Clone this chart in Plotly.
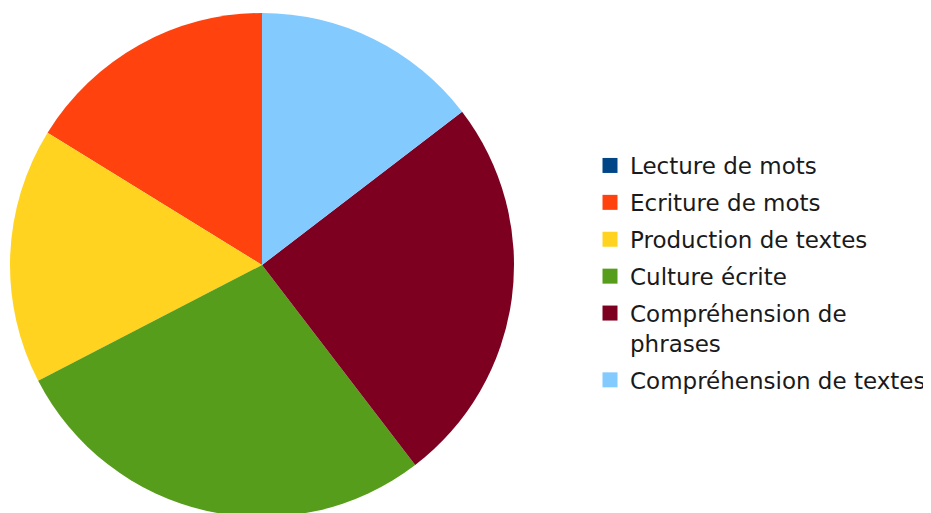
import plotly.graph_objects as go

categories = ["Lecture de mots", "Ecriture de mots", "Production de textes",
              "Culture écrite", "Compréhension de<br>phrases", "Compréhension de textes"]
values = [0, 16.2, 16.4, 27.8, 25.0, 14.6]
colors = ["#004586", "#ff420e", "#ffd320", "#579d1c", "#7e0021", "#83caff"]

W, H = 931, 513
cx, cy, r = 254, 257, 252  # in figure pixels (page has an 8px body margin)

fig = go.Figure()
fig.add_trace(go.Pie(
    labels=categories,
    values=values,
    sort=False,
    direction="counterclockwise",
    rotation=0,
    marker=dict(colors=colors, line=dict(width=0)),
    textinfo="none",
    hoverinfo="label+value",
    showlegend=False,
    domain=dict(x=[(cx - r) / W, (cx + r) / W], y=[(H - cy - r) / H, (H - cy + r) / H]),
))

# legend entries (one group per category so the entries can be spaced)
for i, (lab, col) in enumerate(zip(categories, colors)):
    fig.add_trace(go.Scatter(
        x=[None], y=[None], mode="markers", name=lab,
        marker=dict(symbol="square", size=15, color=col, line=dict(width=0)),
        legendgroup=f"g{i}", showlegend=True, hoverinfo="skip",
    ))

fig.update_layout(
    width=W, height=H,
    margin=dict(l=0, r=0, t=0, b=0),
    paper_bgcolor="white",
    plot_bgcolor="white",
    font=dict(family="DejaVu Sans", size=23, color="#1a1a1a"),
    xaxis=dict(visible=False),
    yaxis=dict(visible=False),
    legend=dict(x=582 / W, xanchor="left", y=1 - 265 / H, yanchor="middle",
                font=dict(family="DejaVu Sans", size=23, color="#1a1a1a"),
                tracegroupgap=4, itemsizing="trace", valign="top",
                bgcolor="rgba(0,0,0,0)"),
    showlegend=True,
)

fig.write_html("out.html")
